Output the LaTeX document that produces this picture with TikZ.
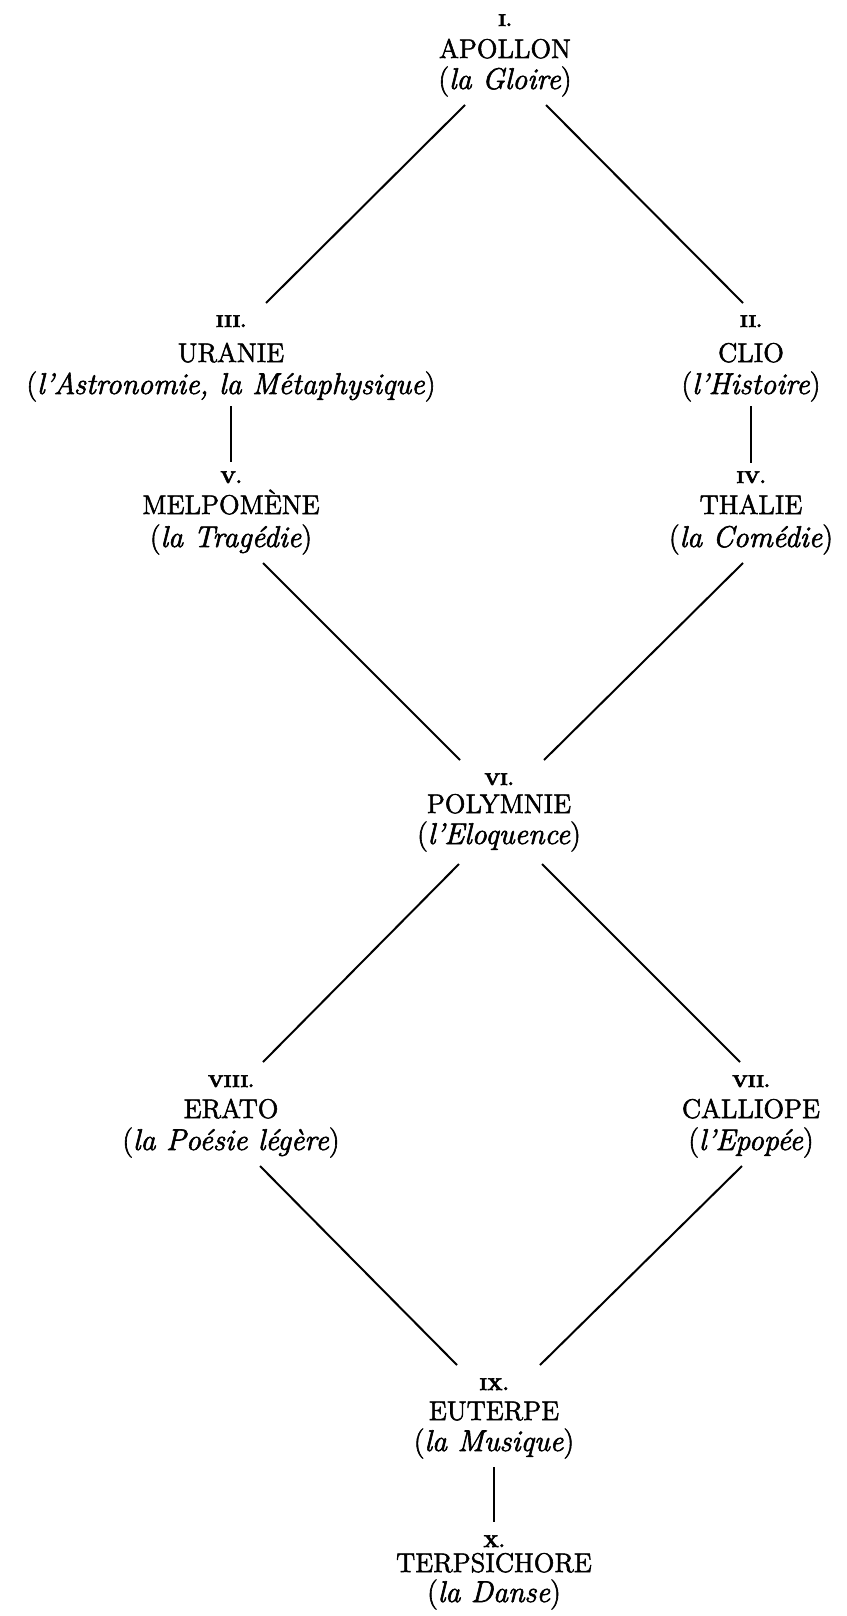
\documentclass[tikz,border=0pt]{standalone}
\usepackage{fontspec}
\setmainfont{Latin Modern Roman}
\usepackage{tikz}
\usetikzlibrary{calc}

\begin{document}
\begin{tikzpicture}[x=0.5pt,y=-0.5pt,
  roman/.style={anchor=base,inner sep=0pt,font=\fontsize{8.5}{9}\selectfont\bfseries\addfontfeature{FakeBold=3}},
  muse/.style={anchor=base,inner sep=0pt,font=\fontsize{13.5}{15}\selectfont\addfontfeature{FakeBold=2}},
  art/.style={anchor=base,inner sep=0pt,font=\fontsize{15}{17}\selectfont\addfontfeature{FakeBold=2}},
  link/.style={black,line width=1pt}]
\useasboundingbox (0,0) rectangle (846,1616);
\node[roman] (n1) at (505,26) {I.};
\node[muse] (m1) at (505,58) {APOLLON};
\node[art] (s1) at (505,89) {(\textit{la Gloire})};
\node[roman] (n3) at (231,327) {III.};
\node[muse] (m3) at (231,362) {URANIE};
\node[art] (s3) at (231,394) {(\textit{l'Astronomie, la Métaphysique})};
\node[roman] (n2) at (751,327) {II.};
\node[muse] (m2) at (751,362) {CLIO};
\node[art] (s2) at (751,394) {(\textit{l'Histoire})};
\node[roman] (n5) at (231,483) {V.};
\node[muse] (m5) at (231,514) {MELPOMÈNE};
\node[art] (s5) at (231,547) {(\textit{la Tragédie})};
\node[roman] (n4) at (751,483) {IV.};
\node[muse] (m4) at (751,514) {THALIE};
\node[art] (s4) at (751,547) {(\textit{la Comédie})};
\node[roman] (n6) at (499,785) {VI.};
\node[muse] (m6) at (499,813) {POLYMNIE};
\node[art] (s6) at (499,844) {(\textit{l'Eloquence})};
\node[roman] (n8) at (231,1087) {VIII.};
\node[muse] (m8) at (231,1118) {ERATO};
\node[art] (s8) at (231,1150) {(\textit{la Poésie légère})};
\node[roman] (n7) at (751,1087) {VII.};
\node[muse] (m7) at (751,1118) {CALLIOPE};
\node[art] (s7) at (751,1150) {(\textit{l'Epopée})};
\node[roman] (n9) at (494,1390) {IX.};
\node[muse] (m9) at (494,1420) {EUTERPE};
\node[art] (s9) at (494,1451) {(\textit{la Musique})};
\node[roman] (n10) at (494,1547) {X.};
\node[muse] (m10) at (494,1572) {TERPSICHORE};
\node[art] (s10) at (494,1602) {(\textit{la Danse})};
\draw[link] ($(s1.base)+(-40,16)$) -- ($(n3.base)+(35,-24)$);
\draw[link] ($(s1.base)+(41,16)$) -- ($(n2.base)+(-8,-24)$);
\draw[link] ($(s3.base)+(0,12)$) -- ($(n5.base)+(0,-21)$);
\draw[link] ($(s2.base)+(0,12)$) -- ($(n4.base)+(0,-20)$);
\draw[link] ($(s5.base)+(32,16)$) -- ($(n6.base)+(-39,-25)$);
\draw[link] ($(s4.base)+(-8,16)$) -- ($(n6.base)+(45,-25)$);
\draw[link] ($(s6.base)+(-40,20)$) -- ($(n8.base)+(32,-25)$);
\draw[link] ($(s6.base)+(43,20)$) -- ($(n7.base)+(-11,-25)$);
\draw[link] ($(s8.base)+(29,16)$) -- ($(n9.base)+(-37,-25)$);
\draw[link] ($(s7.base)+(-9,16)$) -- ($(n9.base)+(46,-25)$);
\draw[link] ($(s9.base)+(0,16)$) -- ($(n10.base)+(0,-25)$);
\end{tikzpicture}
\end{document}
